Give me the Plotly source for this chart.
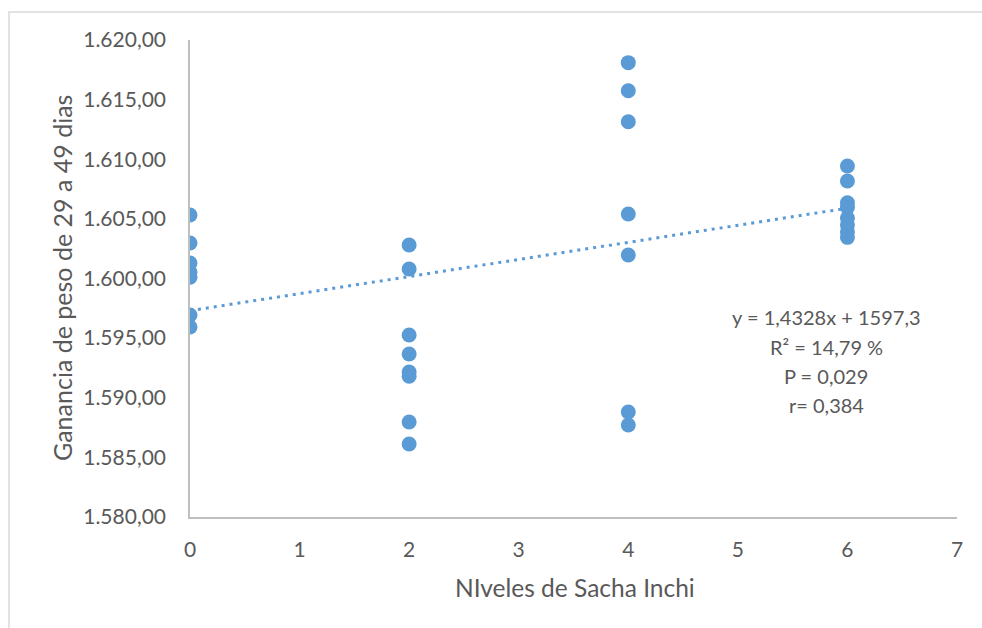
import plotly.graph_objects as go

# ---- data ----
niveles = [0, 0, 0, 0, 0, 0, 0,
           2, 2, 2, 2, 2, 2, 2, 2,
           4, 4, 4, 4, 4, 4, 4,
           6, 6, 6, 6, 6, 6, 6, 6]
ganancia = [1605.33, 1602.98, 1601.30, 1600.55, 1600.10, 1596.94, 1595.93,
            1602.81, 1600.80, 1595.26, 1593.67, 1592.16, 1591.80, 1587.97, 1586.12,
            1618.10, 1615.75, 1613.15, 1605.41, 1601.97, 1588.81, 1587.72,
            1609.43, 1608.18, 1606.35, 1605.95, 1605.07, 1604.49, 1603.90, 1603.45]
trend_slope = 1.4328
trend_intercept = 1597.3
trend_x = [0, 6]
stats_lines = ["y = 1,4328x + 1597,3", "R² = 14,79 %", "P = 0,029", "r= 0,384"]
x_title = "NIveles de Sacha Inchi"
y_title = "Ganancia de peso de 29 a 49 dias"

W, H = 982, 628
L, R, T, B = 190, 25, 40, 111
pw, ph = W - L - R, H - T - B

def px_x(p):
    return (p - L) / pw

def px_y(p):
    return (H - B - p) / ph

blue = "#5B9BD5"
txt = "#595959"
axis_col = "#BFBFBF"
font_family = "Lato, 'Open Sans', sans-serif"

trend_y = [trend_intercept + trend_slope * v for v in trend_x]

fig = go.Figure()
fig.add_trace(go.Scatter(
    x=trend_x, y=trend_y, mode="lines",
    line=dict(color=blue, width=3, dash="3px,5px"),
    hoverinfo="skip", showlegend=False))
fig.add_trace(go.Scatter(
    x=niveles, y=ganancia, mode="markers",
    marker=dict(color=blue, size=15, line=dict(width=0)),
    showlegend=False))

annotations = []
line_py = [317, 347, 376, 405]
for s, py in zip(stats_lines, line_py):
    annotations.append(dict(
        text=s, xref="paper", yref="paper", x=px_x(826), y=px_y(py),
        xanchor="center", yanchor="middle", showarrow=False,
        font=dict(size=20, color=txt, family=font_family)))
annotations.append(dict(
    text=x_title, xref="paper", yref="paper", x=px_x(575), y=px_y(587),
    xanchor="center", yanchor="middle", showarrow=False,
    font=dict(size=24.5, color=txt, family=font_family)))
annotations.append(dict(
    text=y_title, xref="paper", yref="paper", x=px_x(62), y=px_y(278),
    xanchor="center", yanchor="middle", showarrow=False, textangle=-90,
    font=dict(size=25, color=txt, family=font_family)))

fig.update_layout(
    width=W, height=H,
    margin=dict(l=L, r=R, t=T, b=B, pad=0),
    paper_bgcolor="white", plot_bgcolor="white",
    separators=",.",
    font=dict(family=font_family, size=21, color=txt),
    annotations=annotations,
    shapes=[dict(type="rect", xref="paper", yref="paper",
                 x0=px_x(9), y0=px_y(700), x1=px_x(1100), y1=px_y(12),
                 line=dict(color="#D9D9D9", width=1.5), fillcolor="rgba(0,0,0,0)",
                 layer="below")],
    xaxis=dict(range=[0, 7], dtick=1, tick0=0, showgrid=False, zeroline=False,
               showline=True, linecolor=axis_col, linewidth=1.5,
               ticks="", ticklabelstandoff=13,
               tickfont=dict(size=21, color=txt, family=font_family)),
    yaxis=dict(range=[1580, 1620], dtick=5, tick0=1580, showgrid=False,
               zeroline=False, showline=True, linecolor=axis_col, linewidth=1.5,
               ticks="", tickformat=",.2f", ticklabelstandoff=18,
               tickfont=dict(size=21, color=txt, family=font_family)),
)

fig.write_html("out.html")
